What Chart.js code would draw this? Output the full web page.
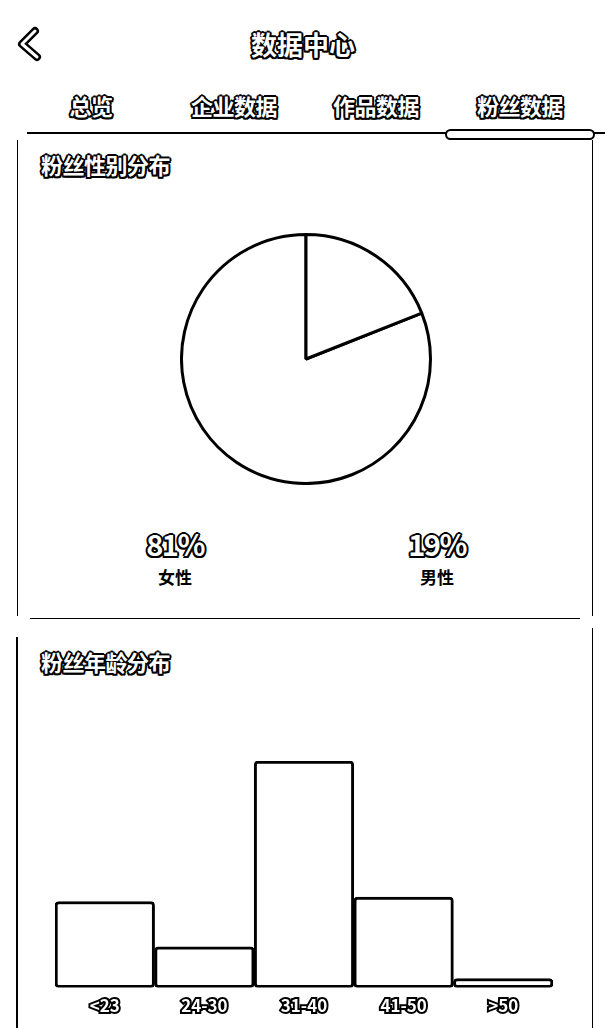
<!DOCTYPE html>
<html><head><meta charset="utf-8">
<script src="https://cdn.jsdelivr.net/npm/chart.js@4.4.1/dist/chart.umd.min.js"></script>
<style>
html,body{margin:0;padding:0;background:#fff;}
body{width:605px;height:1028px;position:relative;overflow:hidden;font-family:"Noto Sans CJK SC","Noto Sans",sans-serif;}
.t{position:absolute;white-space:nowrap;line-height:1;font-weight:700;}
.o{color:#fff;text-shadow:-1.5px -1.5px 0 #000,1.5px -1.5px 0 #000,-1.5px 1.5px 0 #000,1.5px 1.5px 0 #000,0 -2px 0 #000,0 2px 0 #000,-2px 0 0 #000,2px 0 0 #000;}
.c{transform:translateX(-50%);}
.ln{position:absolute;background:#000;}
canvas{position:absolute;display:block;}
</style>
</head><body>
<svg style="position:absolute;left:0;top:0" width="60" height="80">
  <polyline points="35,31 22,44 37,57" fill="none" stroke="#000" stroke-width="8" stroke-linecap="round" stroke-linejoin="round"/>
  <polyline points="35,31 22,44 37,57" fill="none" stroke="#fff" stroke-width="3" stroke-linecap="round" stroke-linejoin="round"/>
</svg>
<div class="t o c" style="left:303px;top:31px;font-size:26px;">数据中心</div>
<div id="tabs"></div>
<div class="ln" style="left:27px;top:132px;width:578px;height:2px;"></div>
<div style="position:absolute;left:445px;top:129px;width:146px;height:7px;border:2px solid #000;border-radius:6px;background:#fff;"></div>

<div class="ln" style="left:17px;top:140px;width:1px;height:476px;"></div>
<div class="ln" style="left:592px;top:140px;width:1px;height:476px;"></div>
<div class="ln" style="left:30px;top:618px;width:550px;height:1px;"></div>
<div class="t o" style="left:41px;top:153px;font-size:22px;letter-spacing:-0.5px;">粉丝性别分布</div>
<canvas id="pie" width="252" height="252" style="left:180px;top:233px;width:252px;height:252px;"></canvas>
<div id="pct"></div>

<div class="ln" style="left:16px;top:637px;width:2px;height:391px;"></div>
<div class="ln" style="left:592px;top:628px;width:1px;height:400px;"></div>
<div class="t o" style="left:41px;top:650px;font-size:22px;letter-spacing:-0.5px;">粉丝年龄分布</div>
<canvas id="bar" width="605" height="284" style="left:0px;top:740px;width:605px;height:284px;"></canvas>

<script>
const tabLabels = ['总览','企业数据','作品数据','粉丝数据'];
const genderLabels = ['女性','男性'];
const genderValues = [81, 19];
const ageLabels = ['<23','24-30','31-40','41-50','>50'];
const ageValues = [19, 9, 50, 20, 2];

const FONT = '"Noto Sans CJK SC","Noto Sans",sans-serif';

// tabs
const tabX = [91, 234, 376, 520];
const tabsEl = document.getElementById('tabs');
tabLabels.forEach((l, i) => {
  const d = document.createElement('div');
  d.className = 't o c';
  d.style.cssText = 'left:' + tabX[i] + 'px;top:94px;font-size:22px;letter-spacing:-0.5px;';
  d.textContent = l;
  tabsEl.appendChild(d);
});

// percentage labels
const pctX = [175, 437];
const pctEl = document.getElementById('pct');
genderLabels.forEach((l, i) => {
  const a = document.createElement('div');
  a.className = 't o c';
  a.style.cssText = 'left:' + pctX[i] + 'px;top:529px;font-size:29px;letter-spacing:-1.5px;';
  a.textContent = genderValues[i] + '%';
  pctEl.appendChild(a);
  const b = document.createElement('div');
  b.className = 't c';
  b.style.cssText = 'left:' + pctX[i] + 'px;top:568px;font-size:17px;color:#000;';
  b.textContent = l;
  pctEl.appendChild(b);
});

const total = genderValues.reduce((a, b) => a + b, 0);
new Chart(document.getElementById('pie'), {
  type: 'pie',
  data: { labels: genderLabels, datasets: [{ data: genderValues, backgroundColor: '#fff', borderColor: '#000', borderWidth: 3 }] },
  options: {
    responsive: false, animation: false, events: [],
    rotation: genderValues[1] / total * 360,
    layout: { padding: 0 },
    plugins: { legend: { display: false }, tooltip: { enabled: false } }
  }
});

new Chart(document.getElementById('bar'), {
  type: 'bar',
  data: { labels: ageLabels, datasets: [{ data: ageValues, backgroundColor: '#fff', borderColor: '#000', borderWidth: 3, borderSkipped: false, borderRadius: 4, categoryPercentage: 1, barPercentage: 1 }] },
  options: {
    responsive: false, animation: false, events: [],
    layout: { padding: { left: 55, right: 52, top: 21, bottom: 0 } },
    plugins: { legend: { display: false }, tooltip: { enabled: false } },
    scales: {
      x: {
        grid: { display: false, drawTicks: false }, border: { display: false },
        ticks: { padding: 8, color: '#fff', textStrokeColor: '#000', textStrokeWidth: 4, font: { family: FONT, size: 17, weight: 'bold' } }
      },
      y: { display: false, min: 0, max: 50 }
    }
  }
});
</script>
</body></html>
